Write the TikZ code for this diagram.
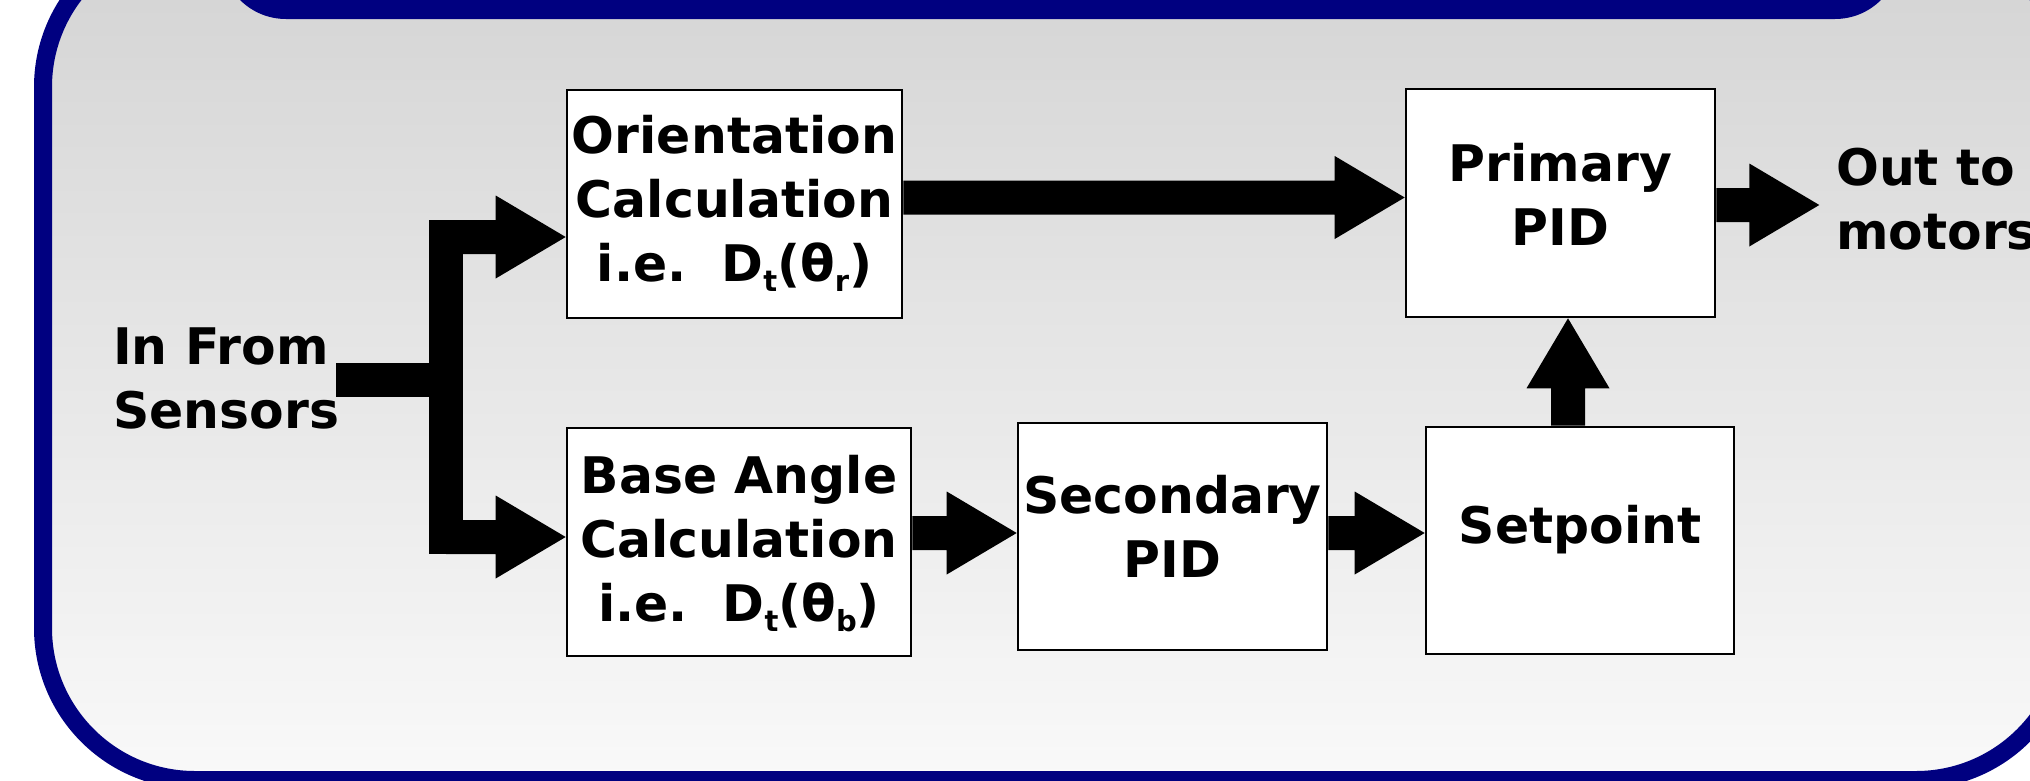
\documentclass[tikz,border=0pt]{standalone}
\usepackage{fontspec}
\setmainfont{DejaVu Sans}
\usetikzlibrary{calc}

\definecolor{frame}{HTML}{000080}
\definecolor{shadetop}{HTML}{D3D3D3}
\definecolor{shadebot}{HTML}{F9F9F9}

% lowered, smaller index letter
\newcommand{\subs}[1]{\raisebox{-10pt}{\fontsize{29pt}{29pt}\selectfont #1}}

% block arrow (shaft + triangular head) from #1 to #2
\newcommand{\fatarrow}[2]{%
  \path ($(#2)!70pt!(#1)$) coordinate (fah);
  \fill[arrowfill] ($(#1)!17pt!90:(#2)$) -- ($(fah)!17pt!90:(#2)$)
    -- ($(fah)!41.5pt!90:(#2)$) -- (#2) -- ($(fah)!41.5pt!-90:(#2)$)
    -- ($(fah)!17pt!-90:(#2)$) -- ($(#1)!17pt!-90:(#2)$) -- cycle;}

\tikzset{
  lbl/.style={font=\bfseries\fontsize{50.4pt}{64pt}\selectfont, inner sep=0pt},
  block/.style={lbl, draw=black, line width=2.6pt, fill=white, anchor=base},
  fatline/.style={line width=34pt, draw=black},
  arrowfill/.style={fill=black},
}

\begin{document}
\begin{tikzpicture}[x=1pt,y=-1pt]
\useasboundingbox (0,0) rectangle (2030,780);
\clip (0,0) rectangle (2030,780);
\fill[white] (0,0) rectangle (2030,780);

% panel with shaded interior
\path[draw=frame, line width=18pt, rounded corners=152pt,
      top color=shadetop, bottom color=shadebot] (43,-65) rectangle (2068,780);
% bottom of the panel above
\fill[frame, rounded corners=65pt] (221,-200) rectangle (1900,19);

% blocks
\node[block, minimum width=335pt, text height=63pt, text depth=165pt] (orient) at (734.5,153)
  {\begin{tabular}[t]{@{}c@{}}Orientation\\Calculation\\i.e.\ \ D\subs{t}(θ\subs{r})\end{tabular}};
\node[block, minimum width=344pt, text height=65pt, text depth=163pt] (base) at (739,493)
  {\begin{tabular}[t]{@{}c@{}}Base Angle\\Calculation\\i.e.\ \ D\subs{t}(θ\subs{b})\end{tabular}};
\node[block, minimum width=309pt, text height=90pt, text depth=137pt] (secondary) at (1172.5,513)
  {\begin{tabular}[t]{@{}c@{}}Secondary\\PID\end{tabular}};
\node[block, minimum width=309pt, text height=92pt, text depth=136pt] (primary) at (1560.5,181)
  {\begin{tabular}[t]{@{}c@{}}Primary\\PID\end{tabular}};
\node[block, minimum width=308pt, text height=116pt, text depth=111pt] (setpoint) at (1580,543)
  {Setpoint};

% free labels
\node[lbl, anchor=base west] (sensors) at (113,364)
  {\begin{tabular}[t]{@{}l@{}}In From\\Sensors\end{tabular}};
\node[lbl, anchor=base west] (motors) at (1836,185)
  {\begin{tabular}[t]{@{}l@{}}Out to\\motors\end{tabular}};

% connector end points
\coordinate (in) at (336,380);
\coordinate (split) at (446,380);
\coordinate (o0) at ([yshift=-33pt]orient.west);
\coordinate (b0) at ([yshift=5pt]base.west);
\coordinate (jt) at (split |- o0);
\coordinate (jb) at (split |- b0);
\coordinate (o1) at ([yshift=6.5pt]orient.east);
\coordinate (p1) at (primary.west |- o1);
\coordinate (q1) at ([yshift=-2pt]primary.east);
\coordinate (out) at ($(q1)+(103,0)$);
\coordinate (s1) at ([xshift=-12pt]setpoint.north);
\coordinate (p2) at (primary.south -| s1);
\coordinate (b1) at ([yshift=9pt]base.east);
\coordinate (c1) at (secondary.west |- b1);
\coordinate (c2) at (secondary.east |- b1);
\coordinate (s2) at (setpoint.west |- b1);

% sensor input split
\draw[fatline] (in) -- (split);
\draw[fatline] ([yshift=17pt]jt) -- ([yshift=-17pt]jb);
\fatarrow{jt}{o0}
\fatarrow{jb}{b0}

% signal flow
\fatarrow{o1}{p1}
\fatarrow{q1}{out}
\fatarrow{s1}{p2}
\fatarrow{b1}{c1}
\fatarrow{c2}{s2}
\end{tikzpicture}
\end{document}
